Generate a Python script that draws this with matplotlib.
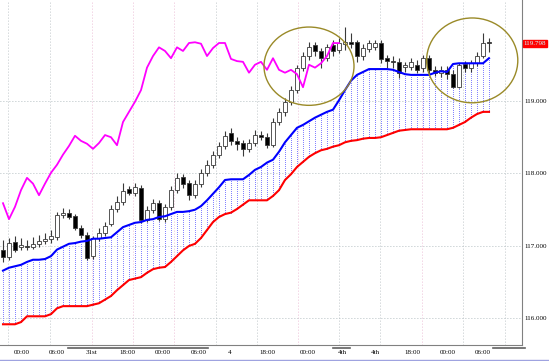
import matplotlib
matplotlib.use("Agg")
import numpy as np
import matplotlib.pyplot as plt
from matplotlib.patches import Ellipse

# hourly candles, oldest first
opens = [116.94, 116.85, 117.06, 116.99, 117.00, 116.99, 117.03, 117.07, 117.10, 117.12,
         117.43, 117.46, 117.41, 117.25, 117.15, 116.86, 117.11, 117.18, 117.30, 117.51,
         117.61, 117.79, 117.73, 117.80, 117.36, 117.50, 117.59, 117.37, 117.54, 117.77,
         117.95, 117.87, 117.70, 117.86, 118.01, 118.12, 118.26, 118.38, 118.56, 118.45,
         118.42, 118.34, 118.42, 118.53, 118.50, 118.39, 118.71, 118.85, 118.99, 119.15,
         119.46, 119.62, 119.77, 119.69, 119.59, 119.77, 119.70, 119.79, 119.81, 119.81,
         119.62, 119.72, 119.74, 119.80, 119.59, 119.55, 119.54, 119.47, 119.47, 119.50,
         119.46, 119.59, 119.43, 119.39, 119.43, 119.37, 119.19, 119.51, 119.46, 119.52,
         119.62, 119.81]
closes = [116.85, 117.04, 116.94, 117.01, 116.99, 117.03, 117.07, 117.10, 117.14, 117.43,
          117.46, 117.40, 117.25, 117.15, 116.83, 117.11, 117.18, 117.28, 117.51, 117.61,
          117.76, 117.73, 117.81, 117.36, 117.50, 117.59, 117.37, 117.54, 117.77, 117.94,
          117.86, 117.70, 117.86, 118.01, 118.12, 118.26, 118.38, 118.52, 118.45, 118.41,
          118.34, 118.42, 118.53, 118.50, 118.39, 118.71, 118.85, 118.99, 119.15, 119.46,
          119.62, 119.74, 119.69, 119.59, 119.74, 119.69, 119.80, 119.81, 119.79, 119.62,
          119.73, 119.80, 119.80, 119.58, 119.55, 119.54, 119.39, 119.50, 119.54, 119.43,
          119.59, 119.43, 119.39, 119.43, 119.37, 119.19, 119.50, 119.46, 119.52, 119.62,
          119.80, 119.798]
highs = [117.08, 117.11, 117.14, 117.11, 117.08, 117.12, 117.15, 117.18, 117.22, 117.47,
         117.52, 117.51, 117.44, 117.29, 117.19, 117.14, 117.25, 117.33, 117.57, 117.69,
         117.87, 117.83, 117.87, 117.84, 117.55, 117.65, 117.63, 117.58, 117.83, 118.01,
         117.99, 117.91, 117.91, 118.06, 118.19, 118.31, 118.43, 118.59, 118.63, 118.50,
         118.46, 118.48, 118.60, 118.59, 118.56, 118.77, 118.90, 119.04, 119.21, 119.50,
         119.68, 119.81, 119.81, 119.73, 119.79, 119.84, 119.87, 120.02, 119.94, 119.84,
         119.79, 119.84, 119.84, 119.84, 119.63, 119.62, 119.59, 119.54, 119.59, 119.57,
         119.63, 119.63, 119.48, 119.48, 119.48, 119.43, 119.52, 119.55, 119.57, 119.68,
         119.94, 119.87]
lows = [116.78, 116.81, 116.92, 116.94, 116.94, 116.96, 116.99, 117.03, 117.04, 117.08,
        117.39, 117.37, 117.22, 117.11, 116.81, 116.82, 117.07, 117.14, 117.28, 117.47,
        117.57, 117.70, 117.69, 117.32, 117.33, 117.46, 117.34, 117.33, 117.50, 117.73,
        117.80, 117.63, 117.66, 117.81, 117.97, 118.08, 118.21, 118.34, 118.39, 118.32,
        118.24, 118.30, 118.38, 118.46, 118.35, 118.37, 118.67, 118.79, 118.94, 119.11,
        119.41, 119.57, 119.62, 119.46, 119.55, 119.62, 119.66, 119.70, 119.73, 119.54,
        119.57, 119.68, 119.70, 119.52, 119.46, 119.46, 119.32, 119.40, 119.43, 119.39,
        119.40, 119.37, 119.34, 119.33, 119.30, 119.18, 119.18, 119.40, 119.40, 119.48,
        119.59, 119.68]

# cloud spans (blue / red) per candle
span_a = [116.66, 116.70, 116.72, 116.74, 116.78, 116.81, 116.81, 116.82, 116.86, 116.95,
          116.99, 117.03, 117.04, 117.06, 117.07, 117.10, 117.10, 117.11, 117.12, 117.19,
          117.26, 117.29, 117.32, 117.33, 117.36, 117.37, 117.40, 117.41, 117.44, 117.47,
          117.47, 117.48, 117.50, 117.55, 117.63, 117.72, 117.81, 117.91, 117.92, 117.92,
          117.92, 117.98, 118.05, 118.09, 118.15, 118.19, 118.30, 118.43, 118.53, 118.63,
          118.67, 118.72, 118.77, 118.81, 118.85, 118.88, 119.01, 119.15, 119.28, 119.36,
          119.40, 119.44, 119.44, 119.44, 119.44, 119.43, 119.40, 119.37, 119.36, 119.36,
          119.36, 119.36, 119.39, 119.41, 119.40, 119.51, 119.52, 119.52, 119.52, 119.52,
          119.52, 119.59]
span_b = [115.92, 115.92, 115.92, 115.95, 116.03, 116.03, 116.03, 116.03, 116.06, 116.14,
          116.17, 116.17, 116.17, 116.17, 116.17, 116.19, 116.21, 116.26, 116.31, 116.39,
          116.46, 116.53, 116.55, 116.57, 116.63, 116.68, 116.70, 116.71, 116.78, 116.86,
          116.94, 117.00, 117.03, 117.11, 117.22, 117.33, 117.40, 117.44, 117.46, 117.51,
          117.57, 117.63, 117.63, 117.63, 117.63, 117.69, 117.77, 117.91, 117.99, 118.09,
          118.16, 118.23, 118.28, 118.32, 118.34, 118.37, 118.39, 118.43, 118.45, 118.46,
          118.48, 118.49, 118.49, 118.50, 118.53, 118.56, 118.59, 118.60, 118.61, 118.61,
          118.61, 118.61, 118.61, 118.61, 118.61, 118.63, 118.67, 118.71, 118.77, 118.82,
          118.85, 118.85]

# lagging line (magenta)
lagging = [117.59, 117.37, 117.54, 117.77, 117.94, 117.86, 117.70, 117.86, 118.01, 118.12,
           118.26, 118.38, 118.52, 118.45, 118.41, 118.34, 118.42, 118.53, 118.50, 118.39,
           118.71, 118.85, 118.99, 119.15, 119.46, 119.62, 119.74, 119.69, 119.59, 119.74,
           119.69, 119.80, 119.81, 119.79, 119.62, 119.73, 119.80, 119.80, 119.58, 119.55,
           119.54, 119.39, 119.50, 119.54, 119.43, 119.59, 119.43, 119.39, 119.43, 119.37,
           119.19, 119.50, 119.46, 119.52, 119.62, 119.80, 119.798]

x_labels = ["00:00", "06:00", "31st", "18:00", "00:00", "06:00", "4", "18:00",
            "00:00", "4th", "4th", "18:00", "00:00", "06:00"]
x_label_pos = [3.2, 9.0, 14.7, 20.8, 26.7, 32.7, 37.7, 44.0, 50.8, 56.5, 62.0, 68.2, 74.2, 80.0]
grid_x = [0.8, 7.8, 14.8, 21.7, 28.5, 35.5, 42.3, 49.2, 56.0, 62.8, 69.8, 76.7, 83.7]
grid_x_col = ['#b4bcc0', '#b4bcc0', '#e8b4d0', '#e8b4d0', '#e8b4d0', '#b4bcc0', '#b4bcc0',
              '#e8b4d0', '#b4bcc0', '#b4bcc0', '#e8b4d0', '#b4bcc0', '#b4bcc0']
y_ticks = [116, 117, 118, 119]
last_price = 119.798

font = ['Liberation Serif', 'DejaVu Serif']

W, H = 549, 361
YLO, YHI = 115.634, 120.393
fig = plt.figure(figsize=(W / 100, H / 100), dpi=100)
fig.patch.set_facecolor('white')
ax = fig.add_axes([0, 16 / H, 522 / W, 345 / H])
ax.set_xlim(-0.5, 86.5)
ax.set_ylim(YLO, YHI)

idx = np.arange(len(opens))

# grid
for gx, gc in zip(grid_x, grid_x_col):
    ax.axvline(gx, color=gc, lw=0.72, ls=(0, (0.8, 2.2)), zorder=0)
for yt in y_ticks:
    ax.axhline(yt, color='#a8b4b8', lw=0.72, ls=(0, (0.8, 2.2)), zorder=0)

# cloud hatching, one dotted stroke per bar
for i in idx:
    ax.plot([i, i], [span_b[i], span_a[i]], color='#8484ff', lw=0.72,
            ls=(0, (1.0, 2.0)), zorder=1, antialiased=False)

# candles
ax.vlines(idx, lows, highs, colors='#3a3a3a', lw=0.8, zorder=3)
o = np.array(opens)
c = np.array(closes)
body_h = np.maximum(np.abs(c - o), 0.012)
cols = ['white' if cc >= oo else 'black' for oo, cc in zip(o, c)]
ax.bar(idx, body_h, bottom=np.minimum(o, c), width=0.8, color=cols,
       edgecolor='#3a3a3a', linewidth=0.6, zorder=4)

# lines
ax.plot(idx, span_a, color='#0000ff', lw=1.5, zorder=5)
ax.plot(idx, span_b, color='#ff0000', lw=1.5, zorder=5)
ax.plot(np.arange(len(lagging)), lagging, color='#ff00ff', lw=1.3, zorder=5)

# highlight circles
ax.add_patch(Ellipse((51.0, 119.48), 15.0, 1.08, fill=False, ec='#9a8a28', lw=1.0, zorder=6))
ax.add_patch(Ellipse((78.2, 119.56), 15.2, 1.17, fill=False, ec='#9a8a28', lw=1.0, zorder=6))

# axes frame
for s in ['top', 'left']:
    ax.spines[s].set_visible(False)
for s in ['right', 'bottom']:
    ax.spines[s].set_color('#808080')
    ax.spines[s].set_linewidth(0.8)

ax.yaxis.tick_right()
ax.set_yticks(y_ticks)
ax.set_yticklabels(['%.3f' % v for v in y_ticks], fontsize=5, family=font)
ax.tick_params(axis='y', length=0, pad=1.5)
ax.set_xticks(x_label_pos)
ax.set_xticklabels(x_labels, fontsize=5, family=font)
ax.tick_params(axis='x', length=0, pad=3.5)

# current price tag
ax.text(1.003, (last_price - YLO) / (YHI - YLO), '%.3f' % last_price,
        transform=ax.transAxes, fontsize=5, family=font, color='#ccffff',
        va='center', ha='left',
        bbox=dict(boxstyle='square,pad=0.15', fc='#ff0000', ec='#ff0000'))

# scroll markers under the axis
for x0, x1 in [(68, 208), (333, 350), (493, 525)]:
    fig.add_artist(plt.Line2D([x0 / W, x1 / W], [1 - 348 / H] * 2, color='#606060', lw=1.2))
fig.add_artist(plt.Line2D([0, 1], [1 - 359.5 / H] * 2, color='#9fa3e0', lw=1.0))

fig.savefig('out.png', dpi=100)
